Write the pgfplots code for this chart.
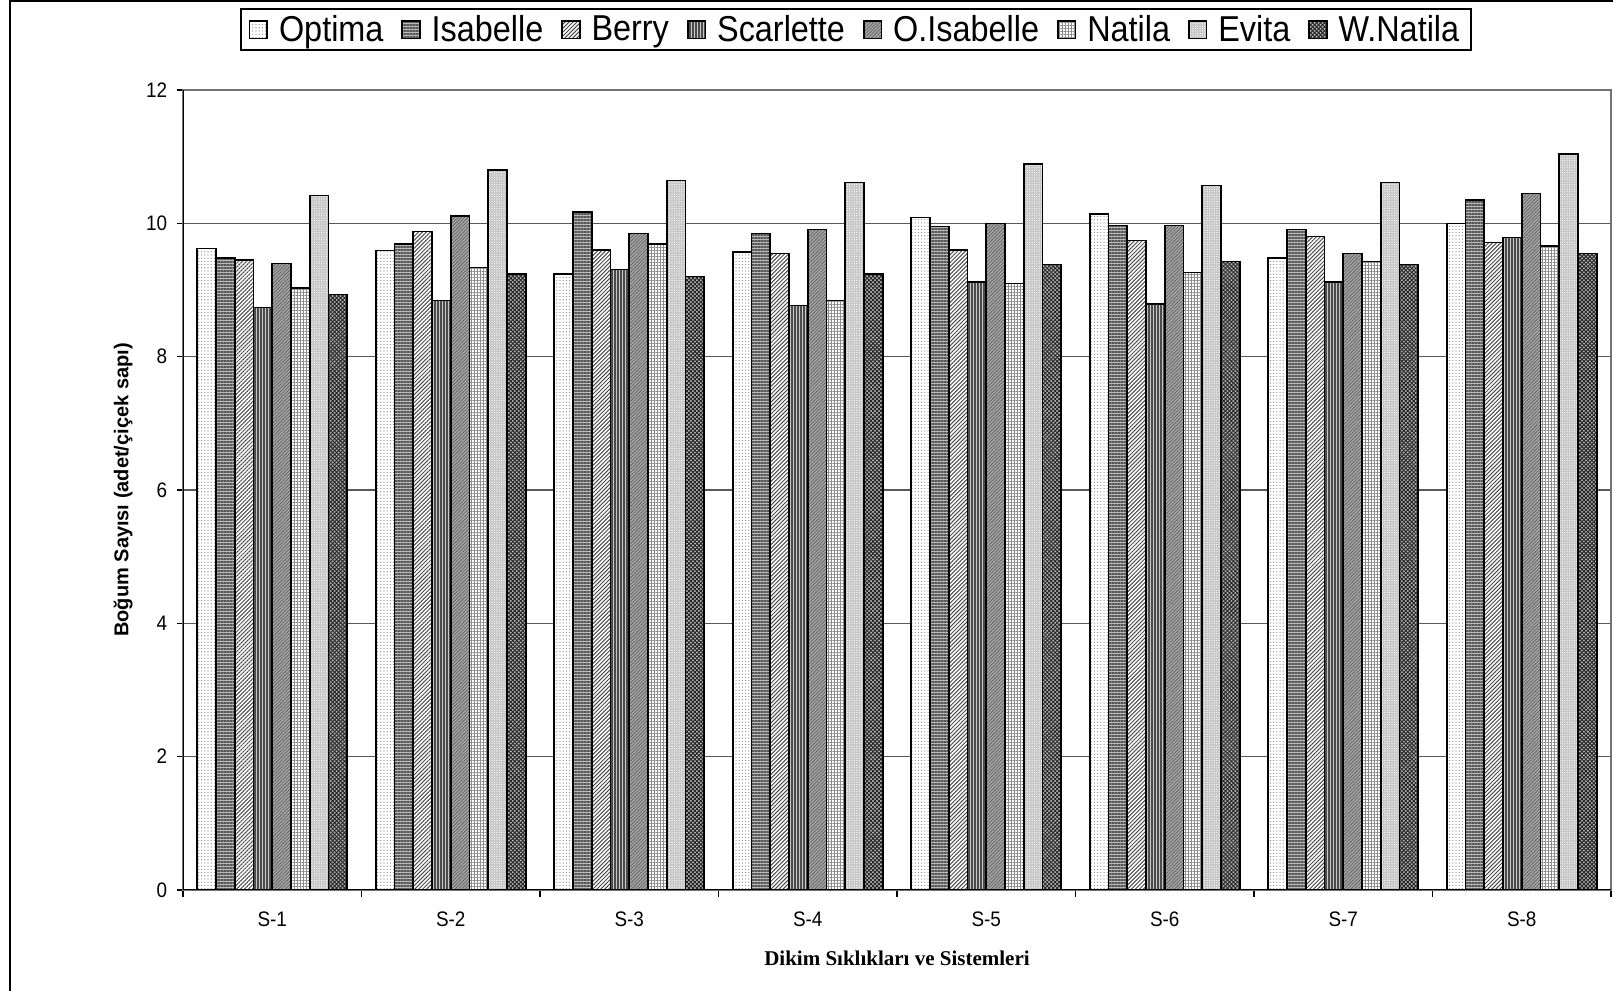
\documentclass[border=0pt]{standalone}
\usepackage{fontspec}
\setmainfont{Liberation Sans}[FakeStretch=0.9]
\newfontfamily\ylabfont{Liberation Sans}
\newfontfamily\xlabfont{Liberation Serif}
\usepackage{pgfplots}
\usepackage{pgfplotstable}
\pgfplotsset{compat=1.18}
\usetikzlibrary{patterns.meta}

\pgfplotstableread{
x optima isabelle berry scarlette oisabelle natila evita wnatila
1 9.62 9.48 9.45 8.74 9.40 9.03 10.42 8.93
2 9.59 9.69 9.88 8.84 10.11 9.34 10.80 9.24
3 9.24 10.17 9.60 9.31 9.85 9.69 10.64 9.20
4 9.57 9.85 9.55 8.77 9.91 8.84 10.61 9.24
5 10.09 9.95 9.60 9.12 10.00 9.10 10.89 9.38
6 10.14 9.97 9.74 8.79 9.97 9.26 10.57 9.43
7 9.48 9.91 9.80 9.12 9.55 9.43 10.61 9.38
8 10.00 10.35 9.71 9.79 10.45 9.66 11.04 9.55
}\data

\tikzset{
  sOptima/.style={fill=white, postaction={pattern={Dots[distance=1.6pt,radius=0.3pt]}, pattern color=gray}},
  sIsabelle/.style={fill=gray!55, postaction={pattern={Lines[angle=0,distance=1.5pt,line width=0.55pt]}, pattern color=black!65}},
  sBerry/.style={fill=white, postaction={pattern={Lines[angle=45,distance=1.4pt,line width=0.5pt]}, pattern color=black!70}},
  sScarlette/.style={fill=gray!45, postaction={pattern={Lines[angle=90,distance=1.5pt,line width=0.55pt]}, pattern color=black!70}},
  sOIsabelle/.style={fill=gray!70, postaction={pattern={Lines[angle=45,distance=1.2pt,line width=0.4pt]}, pattern color=black!60}},
  sNatila/.style={fill=white, postaction={pattern={Hatch[angle=0,distance=1.5pt,line width=0.45pt]}, pattern color=gray!90}},
  sEvita/.style={fill=gray!45, postaction={pattern={Dots[distance=1.2pt,radius=0.3pt]}, pattern color=white}},
  sWNatila/.style={fill=gray!55, postaction={pattern={Hatch[angle=45,distance=1.4pt,line width=0.5pt]}, pattern color=black!85}},
}

\begin{document}
\begin{tikzpicture}
\useasboundingbox (0,0) rectangle (806.5pt,495.5pt);
\begin{axis}[
  at={(91.5pt,50.5pt)}, anchor=south west,
  width=714pt, height=400pt, scale only axis,
  ybar=0pt, bar width=9.375pt,
  xmin=0.5, xmax=8.5, ymin=0, ymax=12,
  xtick={0.5,1.5,...,8.5},
  x tick label as interval,
  xticklabels={S-1,S-2,S-3,S-4,S-5,S-6,S-7,S-8},
  ytick={0,2,...,12},
  tick align=outside, major tick length=3.25pt,
  tick style={black, line width=0.6pt},
  tick label style={font=\fontsize{10.5}{12}\selectfont},
  /pgf/number format/assume math mode=true,
  yticklabel style={inner sep=0pt, xshift=-4.5pt},
  xticklabel style={inner sep=0pt, yshift=-7.5pt},
  ymajorgrids, major grid style={black!65, line width=0.6pt},
  axis line style={black!55, line width=0.6pt},
  xtick pos=bottom, ytick pos=left,
  xlabel={\xlabfont\bfseries Dikim Sıklıkları ve Sistemleri},
  xlabel style={at={(axis description cs:0.5,-0.085)}, anchor=center, font=\fontsize{10.5}{12}\selectfont},
  ylabel={\ylabfont\bfseries Boğum Sayısı (adet/çiçek sapı)},
  ylabel style={at={(axis description cs:-0.042,0.5)}, anchor=center, font=\fontsize{10}{12}\selectfont},
  legend columns=8,
  legend image code/.code={\draw[#1] (0pt,-4.4pt) rectangle (8.8pt,4.4pt);},
  legend style={at={(axis description cs:0.4713,1.0756)}, anchor=center, draw=black, line width=0.8pt,
    font=\fontsize{18}{20}\selectfont, inner xsep=4pt, inner ysep=1pt,
    /tikz/every odd column/.append style={column sep=3.5pt},
    /tikz/every even column/.append style={column sep=7pt}},
  every axis plot/.append style={draw=black, line width=0.8pt},
]
\addplot[sOptima] table[x=x,y=optima]{\data};
\addplot[sIsabelle] table[x=x,y=isabelle]{\data};
\addplot[sBerry] table[x=x,y=berry]{\data};
\addplot[sScarlette] table[x=x,y=scarlette]{\data};
\addplot[sOIsabelle] table[x=x,y=oisabelle]{\data};
\addplot[sNatila] table[x=x,y=natila]{\data};
\addplot[sEvita] table[x=x,y=evita]{\data};
\addplot[sWNatila] table[x=x,y=wnatila]{\data};
\legend{Optima,Isabelle,Berry,Scarlette,O.Isabelle,Natila,Evita,W.Natila}
\draw[black, line width=0.7pt] (rel axis cs:0,1) -- (rel axis cs:0,0) -- (rel axis cs:1,0);
\end{axis}
\draw[black, line width=1pt] (5pt,0) -- (5pt,495pt) -- (806.5pt,495pt);
\end{tikzpicture}
\end{document}
